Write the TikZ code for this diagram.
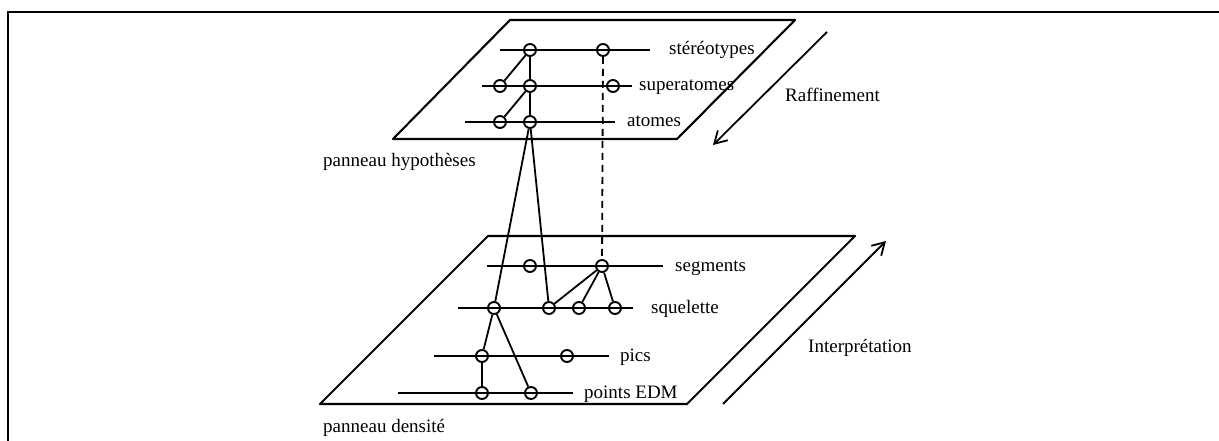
\documentclass[tikz,border=0pt]{standalone}
\usepackage{fontspec}
\setmainfont{Liberation Serif}
\usetikzlibrary{arrows.meta}
\begin{document}
\begin{tikzpicture}[x=1pt,y=-1pt,
  lvl/.style={line width=2.1pt},
  edge/.style={line width=1.8pt},
  panel/.style={line width=2.1pt,line join=round},
  nd/.style={circle,draw,line width=1.9pt,minimum size=12pt,inner sep=0pt},
  lab/.style={anchor=base west,inner sep=0pt,font=\fontsize{19}{22}\selectfont},
  bigarrow/.style={line width=1.8pt,-{Straight Barb[length=12pt,width=14pt,line width=1.8pt]}}]
\useasboundingbox (0,0) rectangle (1219,441);
% frame
\draw[line width=2pt] (8,441) -- (8,12) -- (1219,12);
% panels
\draw[panel] (393,139) -- (677,139) -- (795,20) -- (510,20) -- cycle;
\draw[panel] (320,404) -- (687,404) -- (855,236) -- (488,236) -- cycle;
% level lines
\draw[lvl] (500,50) -- (650,50);
\draw[lvl] (482,86) -- (632,86);
\draw[lvl] (465,122) -- (615,122);
\draw[lvl] (487,266) -- (663,266);
\draw[lvl] (458,308) -- (633,308);
\draw[lvl] (434,356) -- (609,356);
\draw[lvl] (398,393) -- (573,393);
% circles
\node[nd] (s1) at (530,50) {};
\node[nd] (s2) at (603,50) {};
\node[nd] (sa1) at (500,86) {};
\node[nd] (sa2) at (530,86) {};
\node[nd] (sa3) at (613,86) {};
\node[nd] (a1) at (500,122) {};
\node[nd] (a2) at (530,122) {};
\node[nd] (g1) at (530,266) {};
\node[nd] (g2) at (602,266) {};
\node[nd] (q1) at (494,308) {};
\node[nd] (q2) at (549,308) {};
\node[nd] (q3) at (579,308) {};
\node[nd] (q4) at (615,308) {};
\node[nd] (p1) at (482,356) {};
\node[nd] (p2) at (567,356) {};
\node[nd] (e1) at (482,393) {};
\node[nd] (e2) at (531,393) {};
% connections
\draw[edge] (s1) -- (sa1);
\draw[edge] (s1) -- (sa2);
\draw[edge] (sa2) -- (a1);
\draw[edge] (sa2) -- (a2);
\draw[edge] (a2) -- (q1);
\draw[edge] (a2) -- (q2);
\draw[edge,dash pattern=on 7pt off 5pt] (s2) -- (g2);
\draw[edge] (g2) -- (q2);
\draw[edge] (g2) -- (q3);
\draw[edge] (g2) -- (q4);
\draw[edge] (q1) -- (p1);
\draw[edge] (q1) -- (e2);
\draw[edge] (p1) -- (e1);
% labels
\node[lab] (ls) at (669,55) {stéréotypes};
\node[lab] (lsa) at (639,91) {superatomes};
\node[lab] (la) at (627,127) {atomes};
\node[lab] (lg) at (675,271) {segments};
\node[lab] (lq) at (651,313) {squelette};
\node[lab] (lp) at (620,361) {pics};
\node[lab] (le) at (584,398) {points EDM};
\node[lab] (lh) at (323,167) {panneau hypothèses};
\node[lab] (ld) at (323,432) {panneau densité};
\node[lab] (lr) at (785,102) {Raffinement};
\node[lab] (li) at (808,352) {Interprétation};
% arrows
\coordinate (r0) at (827,32);
\coordinate (r1) at (713,145);
\coordinate (i0) at (723,404);
\coordinate (i1) at (886,241);
\draw[bigarrow] (r0) -- (r1);
\draw[bigarrow] (i0) -- (i1);
\end{tikzpicture}
\end{document}
